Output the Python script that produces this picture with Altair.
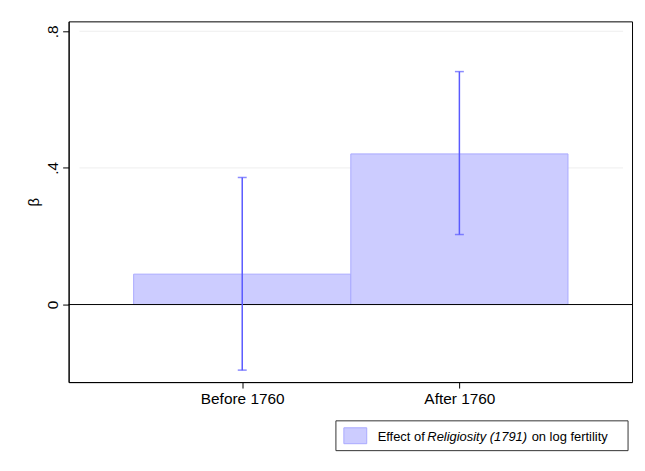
import altair as alt
import pandas as pd

# ---- data ----
categories = ["Before 1760", "After 1760"]
positions = [1, 2]
beta = [0.089, 0.441]
ci_low = [-0.192, 0.205]
ci_high = [0.372, 0.682]
y_ticks = [0, 0.4, 0.8]
grid_values = [0.4, 0.8]
legend_parts = ["Effect of ", "Religiosity (1791)", "on log fertility"]

df = pd.DataFrame({"cat": categories, "pos": positions, "beta": beta,
                   "lo": ci_low, "hi": ci_high})
grid_df = pd.DataFrame({"g": grid_values})
one = pd.DataFrame({"k": [0]})

FONT = "Liberation Sans"
W, H = 567, 363
xscale = alt.Scale(domain=[0.2005, 2.795], nice=False, zero=False)
yscale = alt.Scale(domain=[-0.227, 0.829], nice=False, zero=False)

label_expr = " : ".join(
    [f"datum.value == {p} ? '{c}'" for p, c in zip(positions, categories)]) + " : ''"

x_axis = alt.Axis(values=positions, labelExpr=label_expr, title=None, grid=False,
                  tickSize=6, tickColor="black", domainColor="black", labelPadding=4,
                  labelFontSize=15.5, labelFont=FONT, labelColor="black")
y_axis = alt.Axis(values=y_ticks, grid=False, title="β", titleFontSize=15,
                  titleFont=FONT, titleFontWeight="normal", titleColor="black",
                  titlePadding=4,
                  labelExpr="datum.value == 0 ? '0' : '.' + format(datum.value*10, 'd')",
                  labelAngle=270, labelAlign="center", labelBaseline="alphabetic",
                  labelPadding=5, tickSize=6, tickColor="black", domainColor="black",
                  labelFontSize=15.5, labelFont=FONT, labelColor="black")

base = alt.Chart(df)

# faint outer frame of the graph region
frame = alt.Chart(one).mark_rect(fillOpacity=0, stroke="#ececec", strokeWidth=1).encode(
    x=alt.value(-64), x2=alt.value(620), y=alt.value(-17), y2=alt.value(500))

grid = alt.Chart(grid_df).mark_rule(color="#eeeeee", strokeWidth=1).encode(
    y=alt.Y("g:Q", scale=yscale, axis=y_axis),
    x=alt.value(11), x2=alt.value(558))

bars = base.mark_rect(fill="#ccccff", stroke="#a9a9ff", strokeWidth=1).transform_calculate(
    x0="datum.pos - 0.5", x1="datum.pos + 0.5").encode(
    x=alt.X("x0:Q", scale=xscale, axis=x_axis),
    x2="x1:Q",
    y=alt.Y("beta:Q", scale=yscale, axis=y_axis),
    y2=alt.datum(0))

zero = alt.Chart(one).mark_rule(color="black", strokeWidth=1).encode(
    y=alt.datum(0, scale=yscale), x=alt.value(0), x2=alt.value(W))

err = base.mark_rule(color="#5a5aff", strokeWidth=1.5).encode(
    x=alt.X("pos:Q", scale=xscale, axis=x_axis),
    y=alt.Y("lo:Q", scale=yscale, axis=y_axis), y2="hi:Q")

cap_lo = base.mark_tick(color="#5a5aff", orient="horizontal", size=9,
                        thickness=1.5).encode(
    x=alt.X("pos:Q", scale=xscale, axis=x_axis),
    y=alt.Y("lo:Q", scale=yscale, axis=y_axis))
cap_hi = base.mark_tick(color="#5a5aff", orient="horizontal", size=9,
                        thickness=1.5).encode(
    x=alt.X("pos:Q", scale=xscale, axis=x_axis),
    y=alt.Y("hi:Q", scale=yscale, axis=y_axis))

# ---- custom legend below the plot ----
leg_box = alt.Chart(one).mark_rect(fill="white", stroke="#333333", strokeWidth=1).encode(
    x=alt.value(269), x2=alt.value(563), y=alt.value(402), y2=alt.value(432))
leg_sym = alt.Chart(one).mark_rect(fill="#ccccff", stroke="#a9a9ff", strokeWidth=1).encode(
    x=alt.value(277), x2=alt.value(300), y=alt.value(409), y2=alt.value(425))
leg_t1 = alt.Chart(one).mark_text(text=legend_parts[0], align="left", baseline="alphabetic",
                                  font=FONT, fontSize=13, color="black").encode(
    x=alt.value(311), y=alt.value(422))
leg_t2 = alt.Chart(one).mark_text(text=legend_parts[1], align="left", baseline="alphabetic",
                                  font=FONT, fontSize=13, fontStyle="italic",
                                  color="black").encode(
    x=alt.value(361), y=alt.value(422))
leg_t3 = alt.Chart(one).mark_text(text=legend_parts[2], align="left", baseline="alphabetic",
                                  font=FONT, fontSize=13, color="black").encode(
    x=alt.value(466), y=alt.value(422))

chart = alt.layer(frame, grid, bars, zero, err, cap_lo, cap_hi,
                  leg_box, leg_sym, leg_t1, leg_t2, leg_t3).properties(
    width=W, height=H,
    autosize=alt.AutoSizeParams(type="none"),
    padding={"left": 61, "top": 12, "right": 5, "bottom": 85},
    background="white",
).configure_view(stroke="black", strokeWidth=1)

chart.save("out.html", embed_options={"renderer": "svg", "actions": False})
